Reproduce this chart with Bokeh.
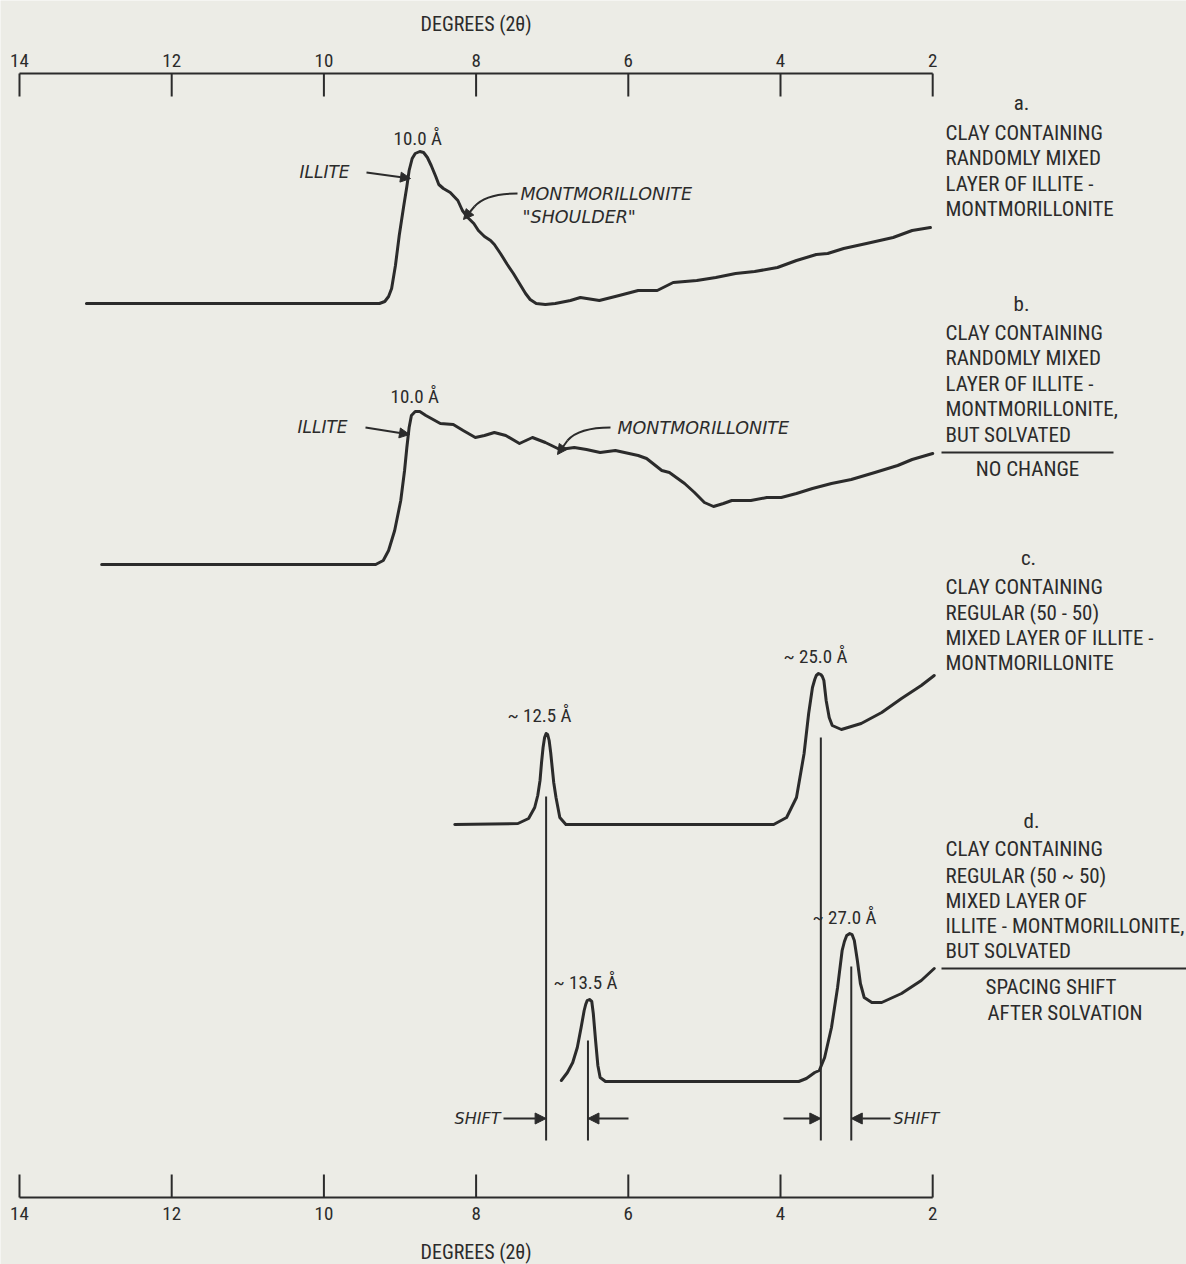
from bokeh.plotting import figure
from bokeh.models import Range1d, Arrow, NormalHead
from bokeh.core.properties import value
from bokeh.embed import file_html
from bokeh.resources import INLINE

# ---------------- data ----------------
TICKS = [14, 12, 10, 8, 6, 4, 2]
TICK_LABELS = ["14", "12", "10", "8", "6", "4", "2"]
AXIS_TITLE = "DEGREES (2\u03b8)"

# a. randomly mixed illite-montmorillonite (deg 2theta, relative intensity)
A_DEG = [13.12, 9.27, 9.20, 9.15, 9.11, 9.06, 9.01, 8.95, 8.91, 8.88, 8.84, 8.80, 8.74,
         8.69, 8.64, 8.59, 8.53, 8.49, 8.43, 8.34, 8.24, 8.18, 8.11, 8.03, 7.97, 7.89,
         7.81, 7.76, 7.68, 7.59, 7.51, 7.43, 7.35, 7.29, 7.21, 7.09, 6.96, 6.76, 6.63,
         6.38, 6.12, 5.87, 5.62, 5.41, 5.10, 4.85, 4.59, 4.34, 4.04, 3.79, 3.53, 3.38,
         3.17, 2.87, 2.52, 2.27, 2.03]
A_INT = [0, 0, 2, 7, 15, 38, 68, 98, 117, 133, 145, 150, 152,
         151, 146, 138, 127, 119, 115, 111, 103, 93, 86, 80, 73, 67,
         63, 59, 50, 39, 30, 20, 10, 4, 0, -1, 0, 3, 6,
         3, 8, 13, 13, 21, 23, 26, 30, 32, 36, 43, 49, 50,
         55, 60, 66, 73, 76]

# b. same clay, solvated
B_DEG = [12.92, 9.32, 9.22, 9.15, 9.07, 8.99, 8.94, 8.91, 8.88, 8.85, 8.80, 8.74, 8.66,
         8.47, 8.30, 8.17, 8.01, 7.89, 7.76, 7.61, 7.43, 7.26, 7.09, 6.90, 6.71, 6.55,
         6.37, 6.17, 5.87, 5.76, 5.56, 5.46, 5.26, 5.13, 5.00, 4.88, 4.75, 4.64, 4.39,
         4.18, 3.99, 3.79, 3.58, 3.33, 3.07, 2.76, 2.46, 2.27, 2.00]
B_INT = [0, 0, 4, 14, 34, 64, 94, 117, 137, 149, 153, 153, 149,
         141, 140, 134, 127, 129, 132, 129, 121, 127, 122, 115, 117, 115,
         112, 114, 109, 106, 94, 92, 81, 72, 62, 58, 61, 64, 64,
         67, 67, 71, 76, 81, 85, 92, 99, 105, 111]

# c. regular (50-50) mixed layer
C_DEG = [8.28, 7.45, 7.31, 7.23, 7.19, 7.16, 7.14, 7.12, 7.10, 7.08, 7.06, 7.04, 7.02,
         7.00, 6.98, 6.95, 6.90, 6.82,
         4.09, 3.92, 3.79, 3.69, 3.63, 3.58, 3.55, 3.53, 3.50, 3.47, 3.45, 3.43, 3.40,
         3.36, 3.32, 3.20, 2.94, 2.67, 2.41, 2.15, 1.98]
C_INT = [0, 1, 6, 17, 29, 44, 62, 77, 87, 91, 90, 84, 72,
         57, 42, 27, 7, 0,
         0, 7, 27, 71, 111, 137, 145, 149, 151, 150, 148, 144, 124,
         107, 99, 95, 101, 112, 126, 139, 149]

# d. regular (50-50) mixed layer, solvated
D_DEG = [6.88, 6.80, 6.73, 6.67, 6.62, 6.58, 6.56, 6.54, 6.51, 6.48, 6.46, 6.43, 6.40,
         6.37, 6.30, 6.17, 3.76, 3.66, 3.55, 3.49, 3.42, 3.33, 3.25, 3.19, 3.16, 3.13,
         3.09, 3.06, 3.03, 2.99, 2.95, 2.90, 2.80, 2.67, 2.41, 2.15, 1.98]
D_INT = [1, 9, 19, 34, 54, 71, 77, 81, 82, 80, 68, 41, 16,
         4, 0, 0, 0, 3, 9, 11, 24, 54, 94, 131, 140, 146,
         148, 147, 141, 121, 98, 84, 79, 79, 88, 101, 113]

PEAK_C = [7.08, 3.47]   # ~12.5 A, ~25.0 A
PEAK_D = [6.53, 3.07]   # ~13.5 A, ~27.0 A

# ---------------- layout helpers (reference pixel -> data) ----------------
W, H = 1186, 1264
PX0, PXS = 19.0, 76.1


def PX(px):
    return 14.0 - (px - PX0) / PXS


def PY(py):
    return float(H) - py


BASE_A, BASE_B, BASE_C, BASE_D = PY(303), PY(564), PY(824), PY(1081)

BG = "#ecece6"
INK = "#2b2b2b"
FONT_C = "Roboto Condensed"
FONT_I = "DejaVu Sans"

p = figure(width=W, height=H, x_range=Range1d(PX(0), PX(W)),
           y_range=Range1d(0, H), output_backend="svg",
           toolbar_location=None, min_border=0, x_axis_location=None,
           y_axis_location=None, background_fill_color=BG,
           border_fill_color=BG, outline_line_color=None)
p.grid.visible = False

for deg, inten, base in [(A_DEG, A_INT, BASE_A), (B_DEG, B_INT, BASE_B),
                         (C_DEG, C_INT, BASE_C), (D_DEG, D_INT, BASE_D)]:
    p.line(x=deg, y=[base + v for v in inten], line_width=3, line_color=INK,
           line_join="round", line_cap="round")

n = len(TICKS)
for y_rule, y_tick, y_lab, y_title in [(73, 96, 60, 23), (1197, 1174, 1213, 1251)]:
    p.segment(x0=[max(TICKS)], y0=[PY(y_rule)], x1=[min(TICKS)], y1=[PY(y_rule)],
              line_width=2, line_color=INK)
    p.segment(x0=TICKS, y0=[PY(y_rule)] * n, x1=TICKS, y1=[PY(y_tick)] * n,
              line_width=2, line_color=INK)
    p.text(x=TICKS, y=[PY(y_lab)] * n, text=TICK_LABELS, text_align="center",
           text_baseline="middle", text_font=value(FONT_C), text_font_size="19px",
           text_color=INK)
    p.text(x=[8.0], y=[PY(y_title)], text=[AXIS_TITLE], text_align="center",
           text_baseline="middle", text_font=value(FONT_C), text_font_size="20px",
           text_color=INK)


def txt(x, y, s, size="21px", font=FONT_C, align="left", style="normal"):
    p.text(x=[x], y=[y], text=[s], text_align=align, text_baseline="middle",
           text_font=value(font), text_font_size=size, text_color=INK,
           text_font_style=style)


LX = PX(945)
blocks = [
    ("a.", 1021, 102, [("CLAY CONTAINING", 132), ("RANDOMLY MIXED", 157),
                       ("LAYER OF ILLITE -", 183), ("MONTMORILLONITE", 208)]),
    ("b.", 1021, 303, [("CLAY CONTAINING", 332), ("RANDOMLY MIXED", 357),
                       ("LAYER OF ILLITE -", 383), ("MONTMORILLONITE,", 408),
                       ("BUT  SOLVATED", 434)]),
    ("c.", 1028, 557, [("CLAY CONTAINING", 586), ("REGULAR (50 - 50)", 612),
                       ("MIXED LAYER OF ILLITE -", 637), ("MONTMORILLONITE", 662)]),
    ("d.", 1031, 820, [("CLAY CONTAINING", 848), ("REGULAR (50 ~ 50)", 875),
                       ("MIXED LAYER OF", 900), ("ILLITE - MONTMORILLONITE,", 925),
                       ("BUT SOLVATED", 950)]),
]
for tag, tx, ty, lines in blocks:
    txt(PX(tx), PY(ty), tag, align="center")
    for s, yy in lines:
        txt(LX, PY(yy), s)

p.segment(x0=[PX(941)], y0=[PY(452)], x1=[PX(1113)], y1=[PY(452)], line_width=2, line_color=INK)
txt(PX(1027), PY(468), "NO CHANGE", align="center")
p.segment(x0=[PX(941)], y0=[PY(968)], x1=[PX(1190)], y1=[PY(968)], line_width=2, line_color=INK)
txt(PX(985), PY(986), "SPACING SHIFT")
txt(PX(987), PY(1012), "AFTER SOLVATION")

txt(PX(393), PY(138), "10.0 \u00c5", size="19px")
txt(PX(390), PY(396), "10.0 \u00c5", size="19px")
txt(PX(507), PY(715), "~ 12.5 \u00c5", size="19px")
txt(PX(783), PY(656), "~ 25.0 \u00c5", size="19px")
txt(PX(812), PY(917), "~ 27.0 \u00c5", size="19px")
txt(PX(553), PY(982), "~ 13.5 \u00c5", size="19px")

txt(PX(299), PY(171), "ILLITE", size="17px", font=FONT_I, style="italic")
txt(PX(297), PY(426), "ILLITE", size="17px", font=FONT_I, style="italic")
txt(PX(520), PY(193), "MONTMORILLONITE", size="17.5px", font=FONT_I, style="italic")
txt(PX(522), PY(216), "\"SHOULDER\"", size="17.5px", font=FONT_I, style="italic")
txt(PX(617), PY(427), "MONTMORILLONITE", size="17.5px", font=FONT_I, style="italic")
txt(PX(500), PY(1118), "SHIFT", size="16px", font=FONT_I, style="italic", align="right")
txt(PX(893), PY(1118), "SHIFT", size="16px", font=FONT_I, style="italic")


def arrow(x0, y0, x1, y1, size=10):
    p.add_layout(Arrow(end=NormalHead(size=size, fill_color=INK, line_color=INK, line_width=1),
                       x_start=x0, y_start=y0, x_end=x1, y_end=y1,
                       line_width=2, line_color=INK))


arrow(PX(366), PY(172), PX(410), PY(178))
arrow(PX(365), PY(427), PX(409), PY(434))
p.bezier(x0=[PX(517)], y0=[PY(193)], x1=[PX(474)], y1=[PY(206)],
         cx0=[PX(494)], cy0=[PY(193)], cx1=[PX(481)], cy1=[PY(198)],
         line_width=2, line_color=INK)
arrow(PX(474), PY(206), PX(463), PY(219))
p.bezier(x0=[PX(610)], y0=[PY(427)], x1=[PX(567)], y1=[PY(440)],
         cx0=[PX(588)], cy0=[PY(427)], cx1=[PX(574)], cy1=[PY(432)],
         line_width=2, line_color=INK)
arrow(PX(567), PY(440), PX(557), PY(454))

p.segment(x0=PEAK_C, y0=[PY(796), PY(737)], x1=PEAK_C, y1=[PY(1140)] * 2,
          line_width=2, line_color=INK)
p.segment(x0=PEAK_D, y0=[PY(1040), PY(966)], x1=PEAK_D, y1=[PY(1140)] * 2,
          line_width=2, line_color=INK)
arrow(PX(503), PY(1118), PEAK_C[0], PY(1118), size=11)
arrow(PX(628), PY(1118), PEAK_D[0], PY(1118), size=11)
arrow(PX(783), PY(1118), PEAK_C[1], PY(1118), size=11)
arrow(PX(890), PY(1118), PEAK_D[1], PY(1118), size=11)

open("out.html", "w").write(file_html(p, INLINE))
